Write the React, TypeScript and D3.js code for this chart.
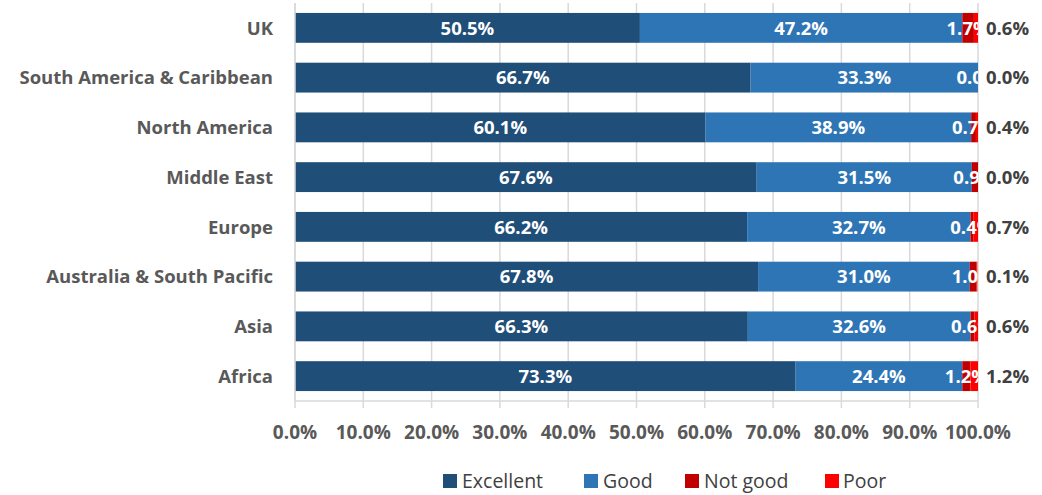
import React from "react";
import * as d3 from "d3";

const categories = [
  "UK",
  "South America & Caribbean",
  "North America",
  "Middle East",
  "Europe",
  "Australia & South Pacific",
  "Asia",
  "Africa",
];
const seriesNames = ["Excellent", "Good", "Not good", "Poor"];
const excellent = [50.5, 66.7, 60.1, 67.6, 66.2, 67.8, 66.3, 73.3];
const good = [47.2, 33.3, 38.9, 31.5, 32.7, 31.0, 32.6, 24.4];
const notGood = [1.7, 0.0, 0.7, 0.9, 0.4, 1.0, 0.6, 1.2];
const poor = [0.6, 0.0, 0.4, 0.0, 0.7, 0.1, 0.6, 1.2];
const xTicks = [0, 10, 20, 30, 40, 50, 60, 70, 80, 90, 100];

const colors = ["#1F4E79", "#2E75B6", "#C00000", "#FF0000"];
const FONT = "'Open Sans', sans-serif";

export default function App() {
  const W = 1042;
  const H = 495;
  const x = d3.scaleLinear().domain([0, 100]).range([295, 978]);
  const y = d3
    .scaleBand<string>()
    .domain(categories)
    .range([3, 401])
    .paddingInner(0.4)
    .paddingOuter(0.2);

  const rows = categories.map((c, i) => ({
    cat: c,
    Excellent: excellent[i],
    Good: good[i],
    "Not good": notGood[i],
    Poor: poor[i],
  }));
  const stack = d3.stack<any>().keys(seriesNames)(rows);
  const fmt = (v: number) => v.toFixed(1) + "%";
  const legendItems = [
    { name: "Excellent", sx: 443, tx: 462 },
    { name: "Good", sx: 584, tx: 603 },
    { name: "Not good", sx: 685, tx: 704 },
    { name: "Poor", sx: 825, tx: 843 },
  ];

  return (
    <svg
      width={W}
      height={H}
      style={{ position: "absolute", left: 0, top: 0, background: "#fff" }}
      fontFamily={FONT}
    >
      <defs>
        <clipPath id="plotClip">
          <rect x={x(0)} y={0} width={x(100) - x(0)} height={405} />
        </clipPath>
      </defs>
      {xTicks.map((t) => (
        <line
          key={"g" + t}
          x1={x(t)}
          x2={x(t)}
          y1={3}
          y2={401}
          stroke="#D9D9D9"
          strokeWidth={1.5}
        />
      ))}
      <line x1={x(0)} x2={x(100)} y1={401} y2={401} stroke="#D9D9D9" strokeWidth={1.5} />
      {xTicks.map((t) => (
        <line
          key={"tk" + t}
          x1={x(t)}
          x2={x(t)}
          y1={401}
          y2={408}
          stroke="#D9D9D9"
          strokeWidth={1.5}
        />
      ))}
      {xTicks.map((t) => (
        <text
          key={"tl" + t}
          x={x(t)}
          y={439}
          textAnchor="middle"
          fontSize={19}
          fontWeight={700}
          fill="#595959"
        >
          {fmt(t)}
        </text>
      ))}
      {stack.map((s, si) => (
        <g key={s.key}>
          {s.map((d, i) => (
            <rect
              key={i}
              x={x(d[0])}
              y={y(categories[i])!}
              width={Math.max(0, x(Math.min(d[1], 100)) - x(d[0]))}
              height={y.bandwidth()}
              fill={colors[si]}
            />
          ))}
        </g>
      ))}
      <line x1={x(0)} x2={x(0)} y1={3} y2={401} stroke="#D9D9D9" strokeWidth={1.5} />
      <g clipPath="url(#plotClip)">
        {stack.slice(0, 3).map((s, si) =>
          s.map((d, i) => (
            <text
              key={s.key + i}
              x={x((d[0] + d[1]) / 2)}
              y={y(categories[i])! + y.bandwidth() / 2}
              dy="0.36em"
              textAnchor="middle"
              fontSize={18.5}
              fontWeight={700}
              fill="#fff"
            >
              {fmt(d[1] - d[0])}
            </text>
          ))
        )}
      </g>
      {poor.map((v, i) => (
        <text
          key={"p" + i}
          x={986}
          y={y(categories[i])! + y.bandwidth() / 2}
          dy="0.36em"
          fontSize={18.5}
          fontWeight={700}
          fill="#404040"
        >
          {fmt(v)}
        </text>
      ))}
      {categories.map((c) => (
        <text
          key={c}
          x={273}
          y={y(c)! + y.bandwidth() / 2}
          dy="0.36em"
          textAnchor="end"
          fontSize={18.5}
          fontWeight={700}
          fill="#595959"
        >
          {c}
        </text>
      ))}
      {legendItems.map((l, i) => (
        <g key={l.name}>
          <rect x={l.sx} y={474} width={14} height={14} fill={colors[i]} />
          <text x={l.tx} y={481} dy="0.36em" fontSize={19.5} fontWeight={400} fill="#404040">
            {l.name}
          </text>
        </g>
      ))}
    </svg>
  );
}
